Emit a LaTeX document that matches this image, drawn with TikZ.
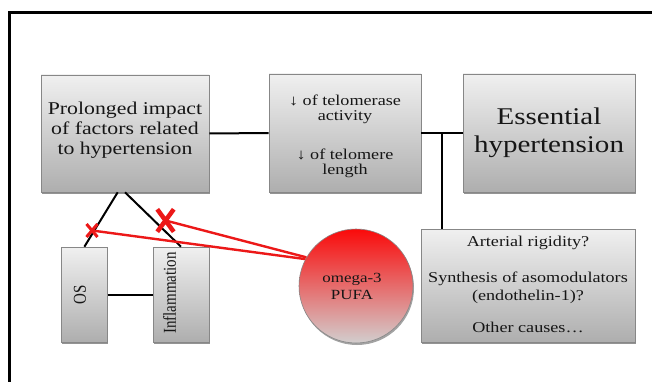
\documentclass[tikz,border=0pt]{standalone}
\usepackage{fontspec}
\setmainfont{Liberation Serif}
\newfontfamily\tnr{Liberation Serif}
\usepackage{graphicx}
\usetikzlibrary{shadows,shapes.misc,calc}
\definecolor{boxtop}{RGB}{240,240,240}
\definecolor{boxbot}{RGB}{174,174,174}
\definecolor{boxline}{RGB}{135,135,135}
\definecolor{redline}{RGB}{236,24,24}
\definecolor{circtop}{RGB}{250,10,10}
\definecolor{circmid}{RGB}{230,85,85}
\definecolor{circbot}{RGB}{210,206,206}
\definecolor{txt}{RGB}{22,22,22}
\newcommand{\wtxt}[3]{{\tnr\fontsize{#1}{#2}\selectfont\scalebox{1.21}[1]{\begin{tabular}{@{}c@{}}#3\end{tabular}}}}
\newcommand{\vtxt}[1]{{\tnr\fontsize{15}{15}\selectfont\scalebox{1}[1.21]{#1}}}
\newcommand{\shifttxt}[2]{\raisebox{#1}[\height][\depth]{#2}}
\begin{document}
\begin{tikzpicture}[x=1pt,y=-1pt,
  font=\tnr,
  gbox/.style={draw=boxline, line width=0.6pt, top color=boxtop, bottom color=boxbot,
    inner sep=0pt, text=txt,
    drop shadow={shadow xshift=1pt, shadow yshift=-2pt, fill=black!60, opacity=0.7}},
  conn/.style={line width=2pt, black},
  redc/.style={line width=2.4pt, redline},
  xmark/.style={cross out, draw=redline, inner sep=0pt},
  lbl/.style={text=txt, inner sep=0pt}]
\useasboundingbox (0,0) rectangle (652,382);
\fill[white] (0,0) rectangle (652,382);
\draw[line width=3pt, line join=miter] (9.5,382) -- (9.5,12.5) -- (652,12.5);

% boxes
\node[gbox, minimum width=168pt, minimum height=117pt] (b1) at (125,133.5)
  {\shifttxt{3pt}{\wtxt{18}{20}{Prolonged impact\\of factors related\\to hypertension}}};
\node[gbox, minimum width=152pt, minimum height=118pt] (b2) at (345,133)
  {\shifttxt{-4pt}{\wtxt{15}{15}{↓ of telomerase\\activity\\[23pt]↓ of telomere\\length}}};
\node[gbox, minimum width=172pt, minimum height=118pt] (b3) at (549,133)
  {\wtxt{24}{28}{Essential\\hypertension}};
\node[gbox, minimum width=214pt, minimum height=113pt] (b4) at (528,285.5)
  {\wtxt{15}{18}{Arterial rigidity?\\[18pt]Synthesis of asomodulators\\(endothelin-1)?\\[14pt]Other causes…}};
\node[gbox, minimum width=46pt, minimum height=95pt] (os) at (84.4,294.5) {};
\node[gbox, minimum width=56pt, minimum height=95pt] (inf) at (181,294.5) {};
\node[lbl, rotate=90] (ost) at (80,294.5) {\vtxt{OS}};
\node[lbl, rotate=90] (inft) at (169.5,293) {\vtxt{Inflammation}};

% omega-3 circle
\node[circle, draw=boxline, line width=0.6pt, minimum size=114pt, inner sep=0pt,
  top color=circtop, middle color=circmid, bottom color=circbot,
  drop shadow={shadow xshift=1pt, shadow yshift=-2pt, fill=black!60, opacity=0.6}] (om) at (356,286) {};
\node[lbl] (omt) at (352,288) {\wtxt{14}{17}{omega-3\\PUFA}};

% connectors
\draw[conn] (b1.east) -- (b2.west);
\draw[conn] (b2.east) -- (b3.west);
\coordinate (j) at (441.6,133);
\draw[conn] (j) -- (j |- b4.north);
\coordinate (s1) at ($(b1.south)+(-7.3,0)$);
\draw[conn] (s1) -- (os.north);
\draw[conn] (b1.south) -- (inf.north);
\draw[conn] (os.east) -- (inf.west);

% crosses and inhibition lines
\node[xmark, line width=3pt, minimum width=8pt, minimum height=10pt] (x1) at (92,230.5) {};
\node[xmark, line width=4.5pt, minimum width=12pt, minimum height=18pt] (x2) at (165.5,220.5) {};
\draw[redc] (om.152.5) -- (x1.center);
\draw[redc] (om.150) -- (x2.center);
\end{tikzpicture}
\end{document}
